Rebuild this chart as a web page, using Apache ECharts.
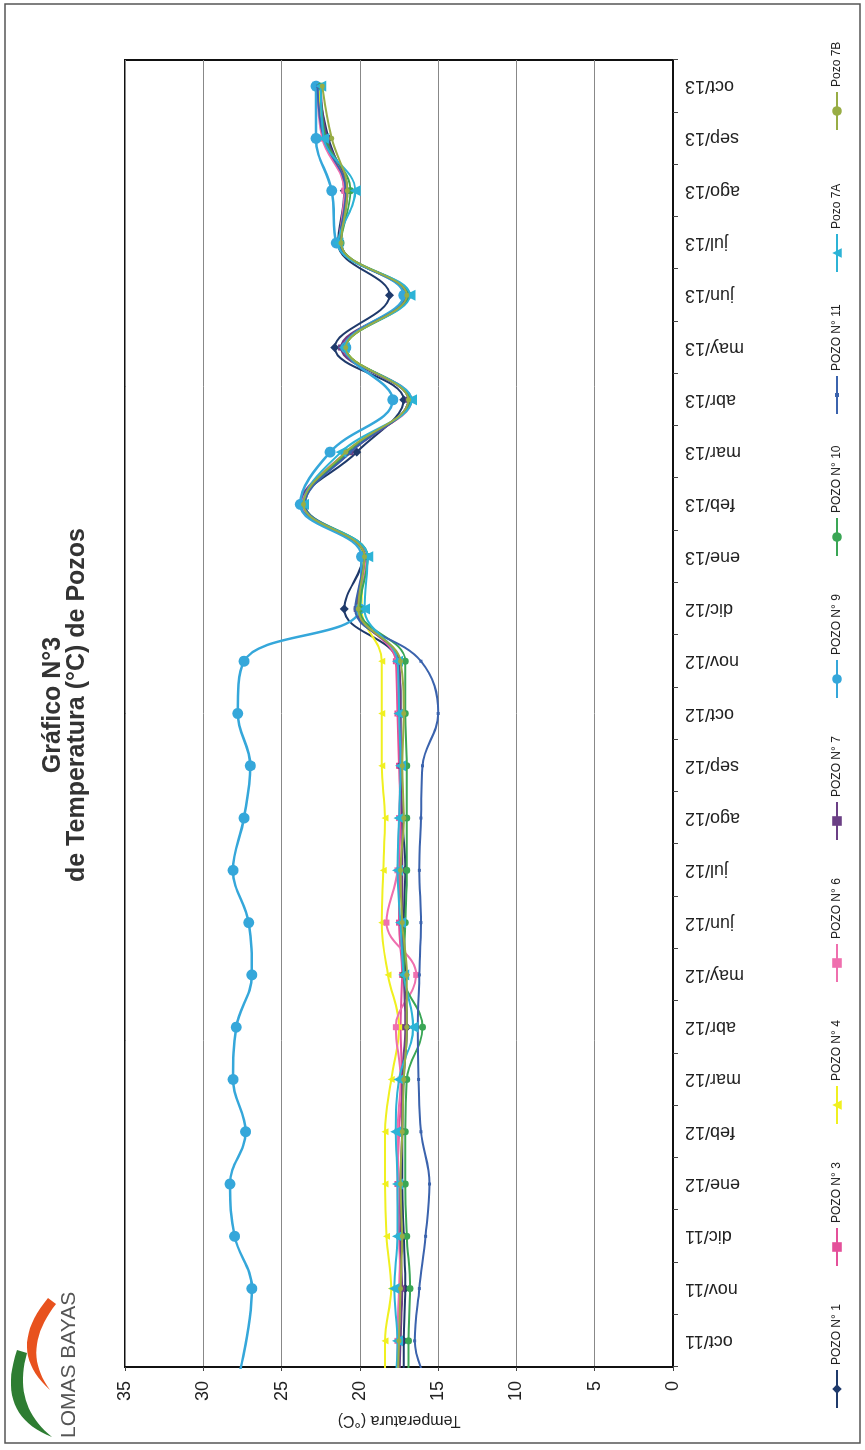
<!DOCTYPE html>
<html><head><meta charset="utf-8">
<script src="https://cdn.jsdelivr.net/npm/echarts@6/dist/echarts.min.js"></script>
<style>
html,body{margin:0;padding:0;width:865px;height:1450px;overflow:hidden;background:#fff;}
#chart{position:absolute;left:0;top:0;width:1450px;height:865px;transform-origin:0 0;transform:translateY(1450px) rotate(-90deg);}
</style></head><body><div id="chart"></div>
<script>
const months = ['oct/11','nov/11','dic/11','ene/12','feb/12','mar/12','abr/12','may/12','jun/12','jul/12','ago/12','sep/12','oct/12','nov/12','dic/12','ene/13','feb/13','mar/13','abr/13','may/13','jun/13','jul/13','ago/13','sep/13','oct/13'];
const yTicks = [0,5,10,15,20,25,30,35];
const names = ['POZO N° 1','POZO N° 3','POZO N° 4','POZO N° 6','POZO N° 7','POZO N° 9','POZO N° 10','POZO N° 11','Pozo 7A','Pozo 7B'];
// reading taken before oct/11 (off the axis, only its approach is visible)
const leadIn = [17.2, 17.5, 18.4, 17.6, 17.5, 28.0, 16.9, 15.3, 17.8, 17.6];
const pozo1  = [17.2,17.1,17.2,17.3,17.3,17.2,17.0,17.1,17.2,17.1,17.3,17.4,17.4,17.6,21.0,19.8,23.7,20.2,17.2,21.6,18.1,21.4,21.0,22.0,22.7];
const pozo3  = [17.5,17.4,17.5,17.6,17.5,17.3,17.4,17.3,17.5,17.5,17.4,17.5,17.6,17.7,20.0,19.7,23.8,20.7,16.8,21.1,17.0,21.3,20.9,22.3,22.6];
const pozo4  = [18.4,18.0,18.3,18.4,18.4,18.0,17.5,18.2,18.6,18.5,18.4,18.6,18.6,18.6,19.9,19.8,23.6,20.8,16.8,20.9,17.0,21.3,20.8,22.2,22.6];
const pozo6  = [17.6,17.5,17.4,17.5,17.6,17.4,17.7,16.4,18.3,17.6,17.5,17.4,17.5,17.6,20.1,19.6,23.7,20.9,16.7,21.0,16.9,21.3,21.0,22.4,22.7];
const pozo7  = [17.4,17.3,17.4,17.4,17.3,17.3,17.1,17.2,17.3,17.3,17.3,17.4,17.4,17.5,20.2,19.7,23.8,20.6,16.9,21.2,17.1,21.2,20.8,22.1,22.5];
const pozo9  = [null,26.9,28.0,28.3,27.3,28.1,27.9,26.9,27.1,28.1,27.4,27.0,27.8,27.4,20.0,19.9,23.8,21.9,17.9,20.9,17.2,21.5,21.8,22.8,22.8];
const pozo10 = [16.9,16.8,17.0,17.1,17.1,17.0,16.0,17.2,17.1,17.0,17.0,17.0,17.1,17.1,20.0,19.5,23.5,20.8,16.8,20.9,16.9,21.2,20.6,22.2,22.5];
const pozo11 = [16.5,16.2,15.8,15.55,16.1,16.25,16.3,16.2,16.1,16.2,16.1,16.0,15.0,16.1,20.3,19.7,23.5,20.6,16.9,21.0,17.0,21.3,20.9,22.3,22.7];
const pozo7A = [17.6,17.8,17.6,17.6,17.7,17.5,16.6,17.2,17.4,17.6,17.5,17.4,17.5,17.6,19.7,19.5,23.6,21.2,16.7,21.0,16.8,21.4,20.3,22.3,22.5];
const pozo7B = [17.5,17.4,17.3,17.4,17.3,17.2,17.0,17.0,17.3,17.4,17.2,17.3,17.2,17.4,20.1,19.7,23.6,20.9,16.9,20.9,17.0,21.2,20.8,21.8,22.4];

const values = [pozo1,pozo3,pozo4,pozo6,pozo7,pozo9,pozo10,pozo11,pozo7A,pozo7B];
const colors = ['#1f3a6b','#e4509a','#f0f020','#ef6fae','#6b3f85','#35a7da','#3aa655','#3b63ad','#2cb3d6','#98ad45'];
const symbols = ['diamond','rect','triangle','rect','rect','circle','circle','rect','triangle','circle'];
const symSizes = [9,6,7,6,6,11,7,3,11,5];
const FONT = 'Liberation Sans, Arial, sans-serif';

// logo crescent outline: two quadratic curves sampled into a polygon
function crescent(a, c1, b, d, c2) {
  const pts = [];
  const q = (p0, p1, p2, t) => [(1-t)*(1-t)*p0[0] + 2*(1-t)*t*p1[0] + t*t*p2[0], (1-t)*(1-t)*p0[1] + 2*(1-t)*t*p1[1] + t*t*p2[1]];
  for (let i = 0; i <= 20; i++) pts.push(q(a, c1, b, i/20));
  for (let i = 0; i <= 20; i++) pts.push(q(d, c2, a, i/20));
  return pts;
}

const series = names.map((n, s) => {
  const pts = [[-1, leadIn[s]]];
  values[s].forEach((v, i) => { if (v !== null) pts.push([i, v]); });
  return {
    name: n, type: 'line', xAxisIndex: 1, yAxisIndex: 0,
    data: pts, smooth: 0.4, clip: true,
    symbol: symbols[s], symbolSize: symSizes[s], showSymbol: true,
    itemStyle: {color: colors[s]},
    lineStyle: {color: colors[s], width: s === 5 ? 2.5 : 2},
    z: 2 + s
  };
});

// evenly spaced legend entries, as in the original
const legends = names.map((n, i) => ({
  data: [n], left: 41 + i * 142, top: 831, padding: 0,
  itemWidth: 38, itemHeight: i === 7 ? 5 : 12, itemGap: 0,
  textStyle: {fontSize: 12, color: '#222', fontFamily: FONT}
}));

const chart = echarts.init(document.getElementById('chart'));
chart.setOption({
  animation: false,
  backgroundColor: '#fff',
  textStyle: {fontFamily: FONT},
  title: {
    text: 'Gráfico N°3\nde Temperatura (°C) de Pozos',
    left: 740, top: 36, textAlign: 'center',
    textStyle: {fontSize: 25, fontWeight: 'bold', color: '#333', lineHeight: 24, fontFamily: FONT}
  },
  legend: legends,
  grid: {left: 83, right: 60, top: 125, bottom: 192, show: true, borderColor: '#111', borderWidth: 2, outerBoundsMode: 'none'},
  xAxis: [{
    type: 'category', data: months, boundaryGap: true, position: 'bottom',
    axisLine: {lineStyle: {color: '#111', width: 2}},
    axisTick: {show: true, length: 5, inside: false, lineStyle: {color: '#444'}},
    axisLabel: {rotate: 90, interval: 0, fontSize: 18, margin: 12, color: '#222', fontFamily: FONT},
    splitLine: {show: false}
  }, {
    type: 'value', min: -0.5, max: 24.5, show: false
  }],
  yAxis: {
    type: 'value', min: yTicks[0], max: yTicks[yTicks.length-1], interval: 5,
    name: 'Temperatura (°C)', nameLocation: 'middle', nameGap: 40, nameRotate: 90,
    nameTextStyle: {fontSize: 16, color: '#222', fontFamily: FONT},
    axisLine: {show: true, onZero: false, lineStyle: {color: '#111', width: 2}},
    axisTick: {show: true, length: 4, lineStyle: {color: '#444'}},
    axisLabel: {fontSize: 18, margin: 14, color: '#222', fontFamily: FONT},
    splitLine: {show: true, lineStyle: {color: '#888', width: 1}}
  },
  graphic: [
    {type: 'rect', shape: {x: 7, y: 5, width: 1439, height: 855}, style: {fill: 'none', stroke: '#555', lineWidth: 1.5}, z: 0, silent: true},
    {type: 'polygon', shape: {points: crescent([13,52],[35,-5],[100,17],[97,27],[45,12])}, style: {fill: '#2e7d32'}, z: 10, silent: true},
    {type: 'polygon', shape: {points: crescent([60,50],[100,5],[152,48],[146,56],[100,20])}, style: {fill: '#e8521e'}, z: 10, silent: true},
    {type: 'text', x: 12, y: 80, style: {text: 'LOMAS BAYAS', fontSize: 21, fill: '#555', fontFamily: FONT, textVerticalAlign: 'bottom'}, z: 10, silent: true}
  ],
  series: series
});
</script></body></html>
